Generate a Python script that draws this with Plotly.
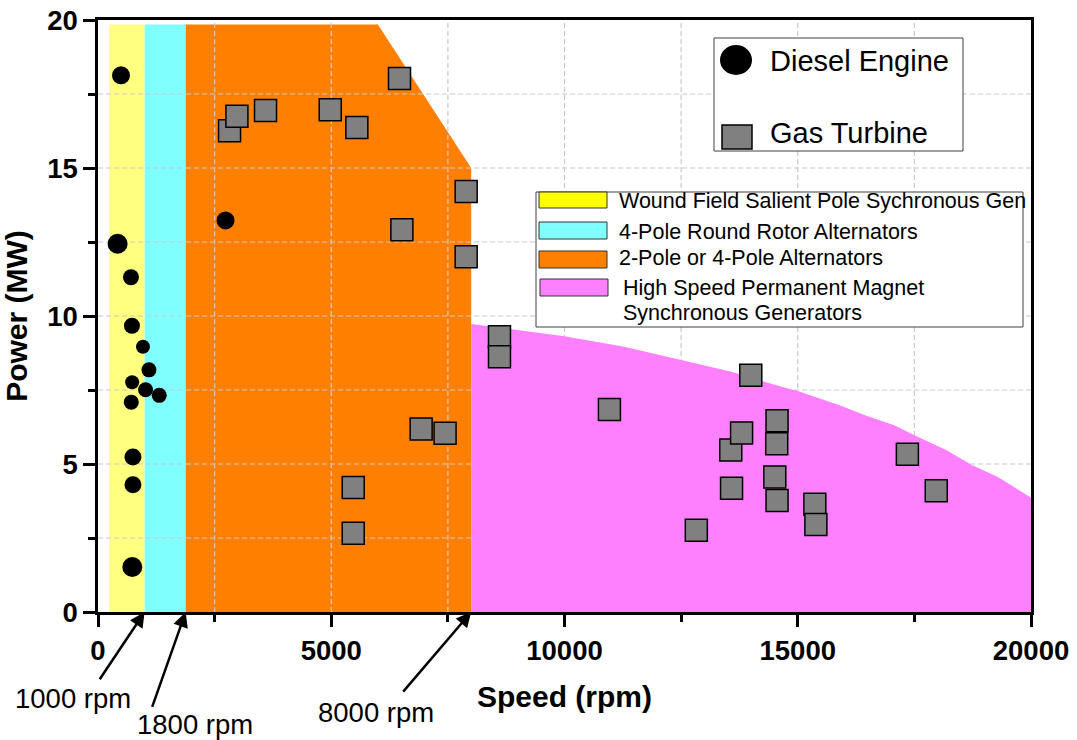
import plotly.graph_objects as go

# ---------------- data ----------------
# Generator technology regions (speed rpm, power MW)
wound_x = [240, 1000, 1000, 240]
wound_y = [0, 0, 19.85, 19.85]
round_x = [1000, 1880, 1880, 1000]
round_y = [0, 0, 19.85, 19.85]
alt_x = [1880, 8000, 8000, 6000, 1880]
alt_y = [0, 0, 15.0, 19.85, 19.85]
pm_x = [8000, 10000, 11280, 12500, 13580, 14690, 15000, 15880, 16440, 17070, 17500,
        18180, 18740, 19290, 20000, 20000, 8000]
pm_y = [9.73, 9.32, 8.96, 8.51, 8.12, 7.59, 7.47, 6.99, 6.65, 6.31, 5.97,
        5.47, 4.96, 4.56, 3.86, 0, 0]

# Diesel engines
diesel_rpm = [493, 2734, 420, 707, 728, 964, 1092, 732, 1020, 1313, 713, 749, 749, 735]
diesel_mw = [18.13, 13.23, 12.44, 11.31, 9.67, 8.96, 8.18, 7.76, 7.51, 7.32, 7.09, 5.24, 4.30, 1.52]
diesel_size = [18, 18, 20, 16, 16, 14, 15, 14, 15, 15, 15, 17, 17, 20]

# Gas turbines
gas_rpm = [2820, 2978, 3591, 4978, 5549, 6463, 7892, 6514, 7892, 8606, 8606, 10963,
           13993, 14556, 13564, 13796, 14549, 14508, 13581, 14556, 15366, 15389,
           17350, 17969, 12826, 7440, 6927, 5471, 5471]
gas_mw = [16.26, 16.75, 16.94, 16.97, 16.37, 18.02, 14.21, 12.91, 12.0, 9.30, 8.62, 6.84,
          8.00, 6.46, 5.47, 6.05, 5.68, 4.56, 4.18, 3.77, 3.64, 2.96,
          5.33, 4.10, 2.76, 6.04, 6.18, 4.21, 2.66]

# grid positions (minor tick positions)
grid_x_vals = [2500, 5000, 7500, 10000, 12500, 15000, 17500]
grid_y_vals = [2.5, 5, 7.5, 10, 12.5, 15, 17.5]

region_names = ["Wound Field Salient Pole Sychronous Gen", "4-Pole Round Rotor Alternators",
                "2-Pole or 4-Pole Alternators", "High Speed Permanent Magnet",
                "Synchronous Generators"]
arrow_labels = ["1000 rpm", "1800 rpm", "8000 rpm"]
arrow_x = [1000, 1880, 8000]

FONT = "Arial, Liberation Sans, sans-serif"

fig = go.Figure()


def region(x, y, color, name):
    fig.add_trace(go.Scatter(x=x, y=y, fill="toself", fillcolor=color, mode="lines",
                             line=dict(width=0, color=color), name=name,
                             showlegend=False, hoverinfo="skip"))


region(wound_x, wound_y, "#FFFF80", region_names[0])
region(round_x, round_y, "#80FFFF", region_names[1])
region(alt_x, alt_y, "#FF8000", region_names[2])

# dashed grid (drawn above the first three regions, below the PM region)
gx, gy = [], []
for v in grid_x_vals:
    gx += [v, v, None]
    gy += [0, 20, None]
for v in grid_y_vals:
    gx += [0, 20000, None]
    gy += [v, v, None]
fig.add_trace(go.Scatter(x=gx, y=gy, mode="lines", showlegend=False, hoverinfo="skip",
                         line=dict(color="#c8c8c8", width=1.2, dash="5px,3px")))

region(pm_x, pm_y, "#FF80FF", region_names[3] + " " + region_names[4])

fig.add_trace(go.Scatter(x=diesel_rpm, y=diesel_mw, mode="markers", name="Diesel Engine",
                         showlegend=False,
                         marker=dict(symbol="circle", size=diesel_size, color="black",
                                     opacity=1, line=dict(width=0))))
fig.add_trace(go.Scatter(x=gas_rpm, y=gas_mw, mode="markers", name="Gas Turbine",
                         showlegend=False,
                         marker=dict(symbol="square", size=22, color="#808080", opacity=1,
                                     line=dict(width=1.5, color="black"))))

# ---------------- layout helpers (pixel -> paper) ----------------
L, R, T, B = 98, 46, 20, 128
W, H = 1077, 740
PW, PH = W - L - R, H - T - B


def px(x):
    return (x - L) / PW


def py(y):
    return (H - B - y) / PH


shapes = []
annotations = []


def rect(x0, y0, x1, y1, fill, line="#404040", lw=1):
    shapes.append(dict(type="rect", xref="paper", yref="paper", x0=px(x0), x1=px(x1),
                       y0=py(y1), y1=py(y0), fillcolor=fill,
                       line=dict(color=line, width=lw), layer="above"))


def text(x, y, s, size, anchor="left"):
    annotations.append(dict(xref="paper", yref="paper", x=px(x), y=py(y), text=s,
                            showarrow=False, xanchor=anchor, yanchor="middle",
                            font=dict(family=FONT, size=size, color="black")))


# marker legend
rect(714, 38, 963, 151, "white")
shapes.append(dict(type="circle", xref="paper", yref="paper", x0=px(720), x1=px(752),
                   y0=py(75), y1=py(45), fillcolor="black", line=dict(color="black", width=0),
                   layer="above"))
rect(722, 125, 752, 149, "#808080", line="black", lw=1.5)
text(768, 61, "Diesel Engine", 29)
text(768, 133, "Gas Turbine", 29)

# region legend
rect(536, 192, 1023, 327, "white")
rect(539, 192, 607, 208, "#FFFF00", line="#333333")
rect(539, 222, 607, 239, "#80FFFF", line="#333333")
rect(539, 251, 607, 268, "#FF8000", line="#333333")
rect(540, 279, 608, 296, "#FF80FF", line="#333333")
text(617, 201, region_names[0], 21.5)
text(617, 232, region_names[1], 21.5)
text(617, 258, region_names[2], 21.5)
text(621, 288, region_names[3], 21.5)
text(621, 313, region_names[4], 21.5)

# arrows pointing at boundary speeds
arrow_tail = [(-46.6, 69.7), (-34.4, 97.3), (-70, 82)]
label_pos = [(73, 698), (195, 724), (376, 712)]
for xv, (ax, ay), (lx, ly), lab in zip(arrow_x, arrow_tail, label_pos, arrow_labels):
    annotations.append(dict(x=xv, y=0, xref="x", yref="y", ax=ax, ay=ay, text=" ",
                            showarrow=True, arrowhead=2, arrowsize=1.2, arrowwidth=2.5,
                            arrowcolor="black", standoff=0,
                            font=dict(size=2)))
    text(lx, ly, lab, 27.5, anchor="center")

axis_common = dict(showgrid=False, zeroline=False, showline=True, linecolor="black",
                   linewidth=2.5, mirror=True, ticks="outside", ticklen=12, tickwidth=2.5,
                   tickcolor="black", automargin=False,
                   tickfont=dict(family=FONT, size=27.5, color="black", weight="bold"))

fig.update_layout(
    width=W, height=H,
    margin=dict(l=L, r=R, t=T, b=B, pad=0),
    paper_bgcolor="white", plot_bgcolor="white",
    font=dict(family=FONT, color="black"),
    showlegend=False,
    xaxis=dict(range=[0, 20000], tick0=0, dtick=5000, tickformat="d",
               minor=dict(dtick=2500, ticks="outside", ticklen=7, tickwidth=2.5,
                          tickcolor="black", showgrid=False),
               title=dict(text="Speed (rpm)", standoff=22,
                          font=dict(family=FONT, size=30, color="black", weight="bold")),
               **axis_common),
    yaxis=dict(range=[0, 20], tick0=0, dtick=5,
               minor=dict(dtick=2.5, ticks="outside", ticklen=7, tickwidth=2.5,
                          tickcolor="black", showgrid=False),
               title=dict(text="Power (MW)", standoff=12,
                          font=dict(family=FONT, size=30, color="black", weight="bold")),
               **axis_common),
    shapes=shapes,
    annotations=annotations,
)

fig.write_html("out.html")
